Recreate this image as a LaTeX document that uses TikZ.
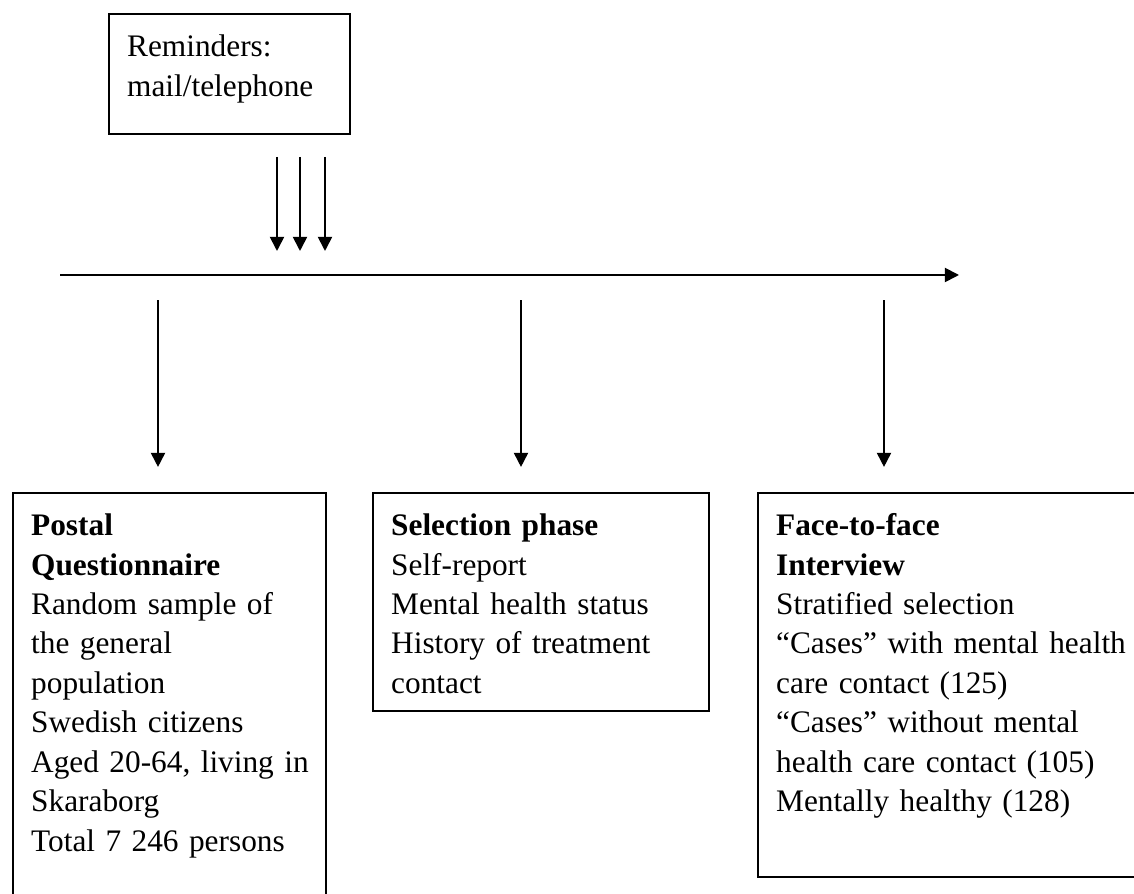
\documentclass[tikz,border=0pt]{standalone}
\usepackage{fontspec}
\setmainfont{Liberation Serif}
\usepackage{tikz}
\usetikzlibrary{arrows.meta,calc,positioning}

\begin{document}
\begin{tikzpicture}
      [x=0.3831pt, y=-0.3831pt,
      font=\fontsize{12}{15.1}\selectfont,
      % STYLES
      % The box style is used for the text boxes of each phase
      box/.style={rectangle, draw, line width=0.7pt, anchor=north west, align=left,
        inner xsep=7pt, inner ysep=6pt, text height=10.4pt},
      % The arr style is used for all arrows
      arr/.style={-{Triangle[length=5.4pt,width=5.4pt]}, line width=0.7pt}]

      \useasboundingbox (0,0) rectangle (1134,894);

      % Draw boxes
      \node [box, text width=78.3pt, text depth=23.6pt] (reminders) at (108,13)
        {Reminders:\\mail/telephone};
      \node [box, text width=106pt, text depth=135.8pt] (postal) at (12,492)
        {\textbf{Postal}\\\textbf{Questionnaire}\\Random sample of\\the general\\population\\Swedish citizens\\\mbox{Aged 20-64, living in}\\Skaraborg\\Total 7 246 persons};
      \node [box, text width=114.7pt, text depth=61pt] (selection) at (372,492)
        {\textbf{Selection phase}\\Self-report\\Mental health status\\History of treatment\\contact};
      \node [box, text width=145pt, text depth=124.7pt] (interview) at (757,492)
        {\textbf{Face-to-face}\\\textbf{Interview}\\Stratified selection\\“Cases” with mental health\\care contact (125)\\“Cases” without mental\\health care contact (105)\\Mentally healthy (128)};

      %%%%%%%%%%%%%%%
      % Time line
      \coordinate (lineStart) at (60,275);
      \coordinate (lineEnd) at (959,275);
      \coordinate (remA) at (277,275);
      \coordinate (remB) at (300,275);
      \coordinate (remC) at (325,275);
      \coordinate (downA) at (158,275);
      \coordinate (downB) at (521,275);
      \coordinate (downC) at (884,275);

      \draw [arr] (lineStart) -- (lineEnd);

      %%%%%%%%%%%%%%%
      % Reminder arrows
      \foreach \r in {remA,remB,remC}
        \draw [arr, shorten <=8.4pt, shorten >=9.2pt] (reminders.south -| \r) -- (\r);

      % Draw the links from the time line to the boxes
      \draw [arr, shorten <=9.6pt, shorten >=9.6pt] (downA) -- (downA |- postal.north);
      \draw [arr, shorten <=9.6pt, shorten >=9.6pt] (downB) -- (downB |- selection.north);
      \draw [arr, shorten <=9.6pt, shorten >=9.6pt] (downC) -- (downC |- interview.north);

\end{tikzpicture}
\end{document}
